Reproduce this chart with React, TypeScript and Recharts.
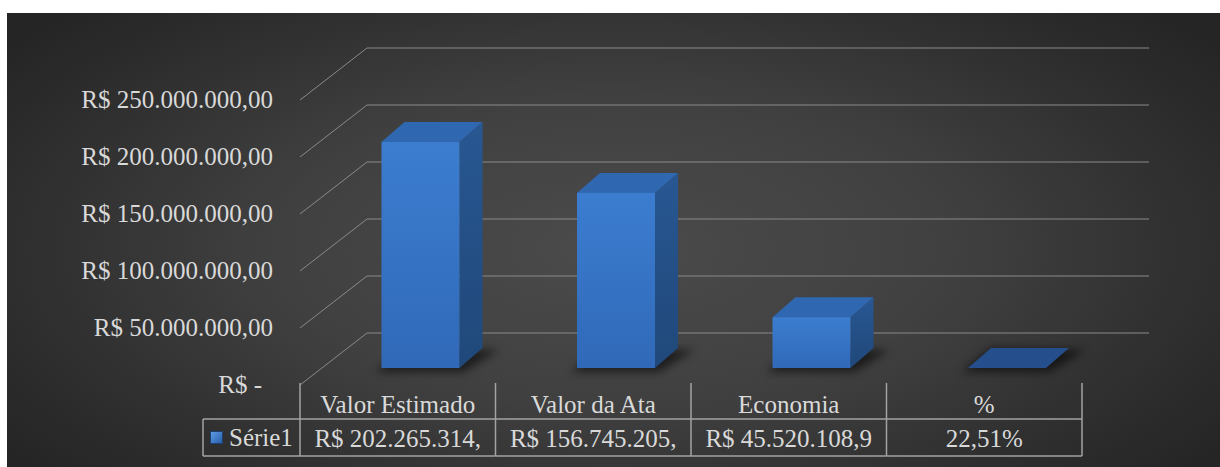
import React from "react"
import { Bar, BarChart, CartesianGrid, Legend, XAxis, YAxis } from "recharts"

const categories = ["Valor Estimado", "Valor da Ata", "Economia", "%"]
const values = [202265314, 156745205, 45520108.9, 0.2251]
const tableLabels = ["R$ 202.265.314,", "R$ 156.745.205,", "R$ 45.520.108,9", "22,51%"]
const yTicks = [0, 50000000, 100000000, 150000000, 200000000, 250000000]
const seriesName = "Série1"

const data = categories.map((name, i) => ({ name, value: values[i], label: tableLabels[i] }))

const W = 1213
const H = 454
const PLOT_W = 782
const BAND = PLOT_W / categories.length
const FONT = "'Liberation Serif', 'Times New Roman', serif"
const FONT_SIZE = 25
const TEXT = "#d9d9d9"
const GRID = "#8a8a8a"
const TABLE = "#a3a3a3"

// floor depth (front edge -> back wall)
const DEPTH_X = 67
const DEPTH_Y = 52

function brl(v: number) {
  if (v === 0) return "R$ -"
  const s = Math.round(v).toString().replace(/\B(?=(\d{3})+(?!\d))/g, ".")
  return `R$ ${s},00`
}

function WallLine(p: any) {
  const bx = p.x1 + DEPTH_X
  const by = p.y1 - DEPTH_Y
  return (
    <g key={p.key}>
      <line x1={p.x1} y1={p.y1} x2={bx} y2={by} stroke={GRID} strokeWidth={1} />
      <line x1={bx} y1={by} x2={p.x2 + DEPTH_X} y2={by} stroke={GRID} strokeWidth={1} />
    </g>
  )
}

function ValueTick({ x, y, payload }: any) {
  const zero = payload.value === 0
  return (
    <text
      x={x - (zero ? 38 : 27)}
      y={y + 8}
      textAnchor="end"
      fill={TEXT}
      fontFamily={FONT}
      fontSize={FONT_SIZE}
    >
      {brl(payload.value)}
    </text>
  )
}

function TableTick({ x, y, payload, index }: any) {
  const left = x - BAND / 2
  const right = x + BAND / 2
  const last = index === categories.length - 1
  return (
    <g>
      <line x1={left} y1={y - 2} x2={left} y2={y + 71} stroke={TABLE} strokeWidth={1.5} />
      {last && <line x1={right} y1={y - 2} x2={right} y2={y + 71} stroke={TABLE} strokeWidth={1.5} />}
      <line x1={left} y1={y + 34} x2={right} y2={y + 34} stroke={TABLE} strokeWidth={1.5} />
      <line x1={left} y1={y + 71} x2={right} y2={y + 71} stroke={TABLE} strokeWidth={1.5} />
      {index === 0 && (
        <g>
          <line x1={left - 97} y1={y + 34} x2={left - 97} y2={y + 71} stroke={TABLE} strokeWidth={1.5} />
          <line x1={left - 97} y1={y + 34} x2={left} y2={y + 34} stroke={TABLE} strokeWidth={1.5} />
          <line x1={left - 97} y1={y + 71} x2={left} y2={y + 71} stroke={TABLE} strokeWidth={1.5} />
        </g>
      )}
      <text x={x} y={y + 28} textAnchor="middle" fill={TEXT} fontFamily={FONT} fontSize={FONT_SIZE}>
        {payload.value}
      </text>
      <text x={x} y={y + 62} textAnchor="middle" fill={TEXT} fontFamily={FONT} fontSize={FONT_SIZE}>
        {tableLabels[index]}
      </text>
    </g>
  )
}

function Box3D(props: any) {
  const { x, y, width, height } = props
  const base = y + height
  const h = Math.max(height, 0) * 0.98
  const fx = x + 22.5
  const fb = base - 17
  const ft = fb - h
  const dx = 23
  const dy = 20
  const r = fx + width
  return (
    <g>
      <polygon
        points={`${fx - 6},${fb + 4} ${r + 4},${fb + 4} ${r + dx + 16},${fb - dy + 2} ${fx + dx},${fb - dy}`}
        fill="#000"
        opacity={0.55}
        filter="url(#bar-shadow)"
      />
      <polygon
        points={`${r},${ft} ${r + dx},${ft - dy} ${r + dx},${fb - dy} ${r},${fb}`}
        fill="url(#bar-side)"
      />
      <polygon
        points={`${fx},${ft} ${r},${ft} ${r + dx},${ft - dy} ${fx + dx},${ft - dy}`}
        fill={h > 2 ? "#2f67b1" : "#254f8c"}
      />
      {h > 0.5 && <rect x={fx} y={ft} width={width} height={h} fill="url(#bar-front)" />}
    </g>
  )
}

function LegendCell() {
  return (
    <div
      style={{
        display: "flex",
        alignItems: "center",
        height: 37,
        paddingLeft: 7,
        fontFamily: FONT,
        fontSize: FONT_SIZE,
        color: TEXT,
      }}
    >
      <span
        style={{
          display: "inline-block",
          width: 13,
          height: 13,
          marginRight: 6,
          background: "linear-gradient(135deg, #5b9be6, #2a5fa8)",
          border: "1px solid #1d3f70",
          boxSizing: "border-box",
        }}
      />
      <span>{seriesName}</span>
    </div>
  )
}

export default function App() {
  return (
    <div
      style={{
        position: "absolute",
        left: 7,
        top: 13,
        width: W,
        height: H,
        background:
          "radial-gradient(ellipse 62% 75% at 50% 52%, #4b4b4b 0%, #404040 45%, #2e2e2e 80%, #252525 100%)",
      }}
    >
      <BarChart width={W} height={H} data={data} margin={{ top: 87, right: 138, bottom: 0, left: 0 }}>
        <defs>
          <linearGradient id="bar-front" x1="0" y1="0" x2="0" y2="1">
            <stop offset="0%" stopColor="#3c7dd0" />
            <stop offset="100%" stopColor="#3069b8" />
          </linearGradient>
          <linearGradient id="bar-side" x1="0" y1="0" x2="0" y2="1">
            <stop offset="0%" stopColor="#285792" />
            <stop offset="100%" stopColor="#20487a" />
          </linearGradient>
          <filter id="bar-shadow" x="-20%" y="-100%" width="140%" height="300%">
            <feGaussianBlur stdDeviation="4" />
          </filter>
        </defs>
        <CartesianGrid vertical={false} horizontal={WallLine} />
        <XAxis
          dataKey="name"
          axisLine={false}
          tickLine={false}
          tickSize={0}
          tickMargin={0}
          height={82}
          interval={0}
          tick={<TableTick />}
        />
        <YAxis
          width={293}
          domain={[0, 250000000]}
          ticks={yTicks}
          axisLine={false}
          tickLine={false}
          tickSize={0}
          tickMargin={0}
          tick={<ValueTick />}
        />
        <Legend
          layout="horizontal"
          align="center"
          verticalAlign="middle"
          content={<LegendCell />}
          wrapperStyle={{ position: "absolute", left: 196, top: 406, width: 97, height: 37 }}
        />
        <Bar dataKey="value" name={seriesName} barSize={78} shape={<Box3D />} isAnimationActive={false} />
      </BarChart>
    </div>
  )
}
